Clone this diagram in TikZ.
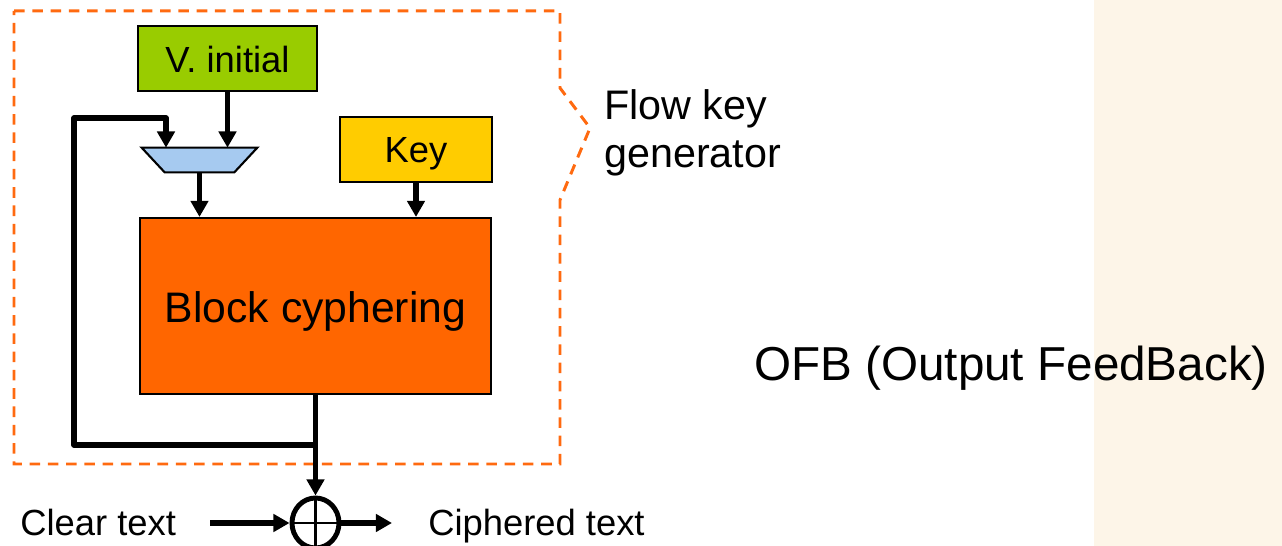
\documentclass[tikz,border=0pt]{standalone}
\usepackage{fontspec}
\setmainfont{Liberation Sans}
\usetikzlibrary{arrows.meta,shapes.geometric,calc}

\definecolor{ivgreen}{HTML}{99CC00}
\definecolor{keyyellow}{HTML}{FFCC00}
\definecolor{blockorange}{HTML}{FF6600}
\definecolor{muxblue}{HTML}{A6CAF0}
\definecolor{dashorange}{HTML}{FF6A10}
\definecolor{cream}{HTML}{FDF5E8}

\newcommand{\fsmall}{\fontsize{20.7pt}{24pt}\selectfont}
\newcommand{\fmid}{\fontsize{23.5pt}{27.3pt}\selectfont}
\newcommand{\fblock}{\fontsize{24.3pt}{28pt}\selectfont}
\newcommand{\fbig}{\fontsize{27.1pt}{32pt}\selectfont}

\begin{document}
\begin{tikzpicture}[
  x=0.02cm, y=-0.02cm,
  boxnode/.style={draw=black, line width=1.2pt, inner sep=0pt, font=\fsmall},
  wire/.style={line width=2.9pt},
  arr/.style={wire, -{Triangle[length=9.2pt,width=9.8pt]}},
  region/.style={draw=dashorange, line width=1.7pt, dash pattern=on 6pt off 4.4pt},
  label/.style={inner sep=0pt, anchor=base west},
]
\useasboundingbox (0,0) rectangle (1282,546);

% side band
\fill[cream] (1094,0) rectangle (1282,546);

% flow key generator region
\draw[region] (14,11) -- (560,11) -- (560,88) -- (590,128) -- (560,200)
  -- (560,464) -- (14,464) -- cycle;

% blocks
\node[boxnode, fill=ivgreen, minimum width=3.58cm, minimum height=1.3cm,
      text height=0.58cm, text depth=0pt] (vinit) at (227.5,58.5) {V. initial};
\node[boxnode, fill=keyyellow, minimum width=3.04cm, minimum height=1.3cm,
      text height=0.54cm, text depth=0pt] (key) at (416,149.5) {Key};
\node[boxnode, fill=blockorange, minimum width=7.02cm, minimum height=3.52cm,
      font=\fblock, text height=0.68cm, text depth=0pt] (block) at (315.5,306) {Block cyphering};

% selector (trapezoid, wide side up)
\node[inner sep=0pt, minimum width=2.3cm, minimum height=0.48cm] (mux) at (199.5,160) {};
\draw[line width=1.2pt, fill=muxblue, line join=miter]
  (mux.north west) -- (mux.north east) -- ($(mux.south east)+(-23,0)$)
  -- ($(mux.south west)+(23,0)$) -- cycle;

% XOR
\node[draw=black, line width=2.8pt, ellipse, minimum width=0.94cm,
      minimum height=1.0cm, inner sep=0pt] (xor) at (315.5,523) {};
\draw[line width=1.7pt] (xor.north) -- (xor.south) (xor.west) -- (xor.east);

% texts
\node[label, font=\fmid] (fkg1) at (604,120) {Flow key};
\node[label, font=\fmid] (fkg2) at (604,168) {generator};
\node[label, font=\fbig] (ofb) at (754,381) {OFB (Output FeedBack)};
\node[label, font=\fsmall] (clear) at (20,536) {Clear text};
\node[label, font=\fsmall] (ciph) at (428,536) {Ciphered text};

% connectors
\coordinate (fbjoin) at (316,445);
\coordinate (fbl) at (74,445);
\coordinate (fbt) at (74,118);
\coordinate (fbin) at (166,118);
\coordinate (inS) at (210,523);
\coordinate (outE) at (392,523);

\draw[arr] (vinit.south) -- (vinit.south |- mux.north);
\draw[arr, line join=round] (fbjoin) -- (fbl) -- (fbt) -- (fbin) -- (fbin |- mux.north);
\draw[arr] (mux.south) -- (mux.south |- block.north);
\draw[arr] (key.south) -- (key.south |- block.north);
\draw[arr] (block.south) -- (xor.north);
\draw[arr] (inS) -- (xor.west);
\draw[arr] (xor.east) -- (outE);
\end{tikzpicture}
\end{document}
